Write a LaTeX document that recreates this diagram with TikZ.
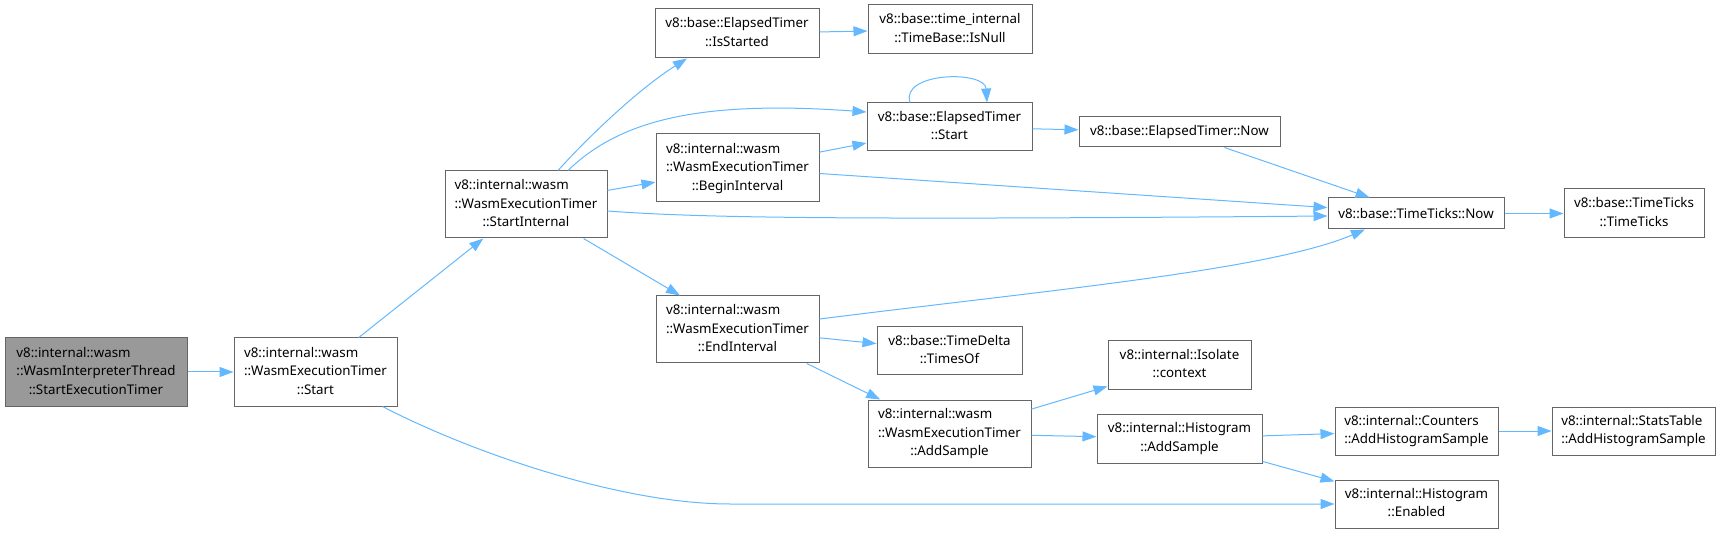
\documentclass[tikz,border=0pt]{standalone}
\usepackage{fontspec}
\setmainfont{Noto Sans}
\usepackage{tikz}
\usetikzlibrary{calc,arrows.meta}
\definecolor{grey40}{HTML}{666666}
\definecolor{grey60}{HTML}{999999}
\definecolor{edgeblue}{HTML}{63B8FF}
\newcommand{\fnlabel}[2]{\begin{tabular}{@{}l@{}}#1\\\multicolumn{1}{@{}c@{}}{#2}\end{tabular}}

\begin{document}
\begin{tikzpicture}[x=1pt,y=-1pt,>={Triangle[length=14pt,width=10pt]},
  fn/.style={draw=grey40,fill=white,line width=1pt,inner sep=0pt,font=\fontsize{13.33}{18.5}\selectfont},
  edge/.style={->,draw=edgeblue,line width=1pt}]
  \useasboundingbox (0,0) rectangle (1721,534);
  % caller and first callee
  \node[fn,fill=grey60,minimum width=182,minimum height=68] (root) at (96,372) {\fnlabel{v8::internal::wasm\\::WasmInterpreterThread}{::StartExecutionTimer}};
  \node[fn,minimum width=163,minimum height=68] (start) at (315.5,372) {\fnlabel{v8::internal::wasm\\::WasmExecutionTimer}{::Start}};
  \node[fn,minimum width=162,minimum height=67] (startint) at (526,204.5) {\fnlabel{v8::internal::wasm\\::WasmExecutionTimer}{::StartInternal}};
  % middle column
  \node[fn,minimum width=164,minimum height=49] (isstarted) at (737,33.5) {\fnlabel{v8::base::ElapsedTimer}{::IsStarted}};
  \node[fn,minimum width=163,minimum height=68] (begin) at (737.5,168) {\fnlabel{v8::internal::wasm\\::WasmExecutionTimer}{::BeginInterval}};
  \node[fn,minimum width=163,minimum height=67] (endint) at (737.5,329.5) {\fnlabel{v8::internal::wasm\\::WasmExecutionTimer}{::EndInterval}};
  \node[fn,minimum width=164,minimum height=49] (timebase) at (950,29.5) {\fnlabel{v8::base::time\_internal}{::TimeBase::IsNull}};
  \node[fn,minimum width=165,minimum height=48] (estart) at (949.5,127) {\fnlabel{v8::base::ElapsedTimer}{::Start}};
  \node[fn,minimum width=145,minimum height=48] (timesof) at (949.5,351) {\fnlabel{v8::base::TimeDelta}{::TimesOf}};
  \node[fn,minimum width=163,minimum height=67] (addsample) at (949.5,433.5) {\fnlabel{v8::internal::wasm\\::WasmExecutionTimer}{::AddSample}};
  % right part
  \node[fn,minimum width=201,minimum height=30] (enow) at (1179.5,132) {v8::base::ElapsedTimer::Now};
  \node[fn,minimum width=143,minimum height=48] (context) at (1179.5,365) {\fnlabel{v8::internal::Isolate}{::context}};
  \node[fn,minimum width=165,minimum height=49] (histadd) at (1179.5,438.5) {\fnlabel{v8::internal::Histogram}{::AddSample}};
  \node[fn,minimum width=176,minimum height=31] (ttnow) at (1416,213.5) {v8::base::TimeTicks::Now};
  \node[fn,minimum width=163,minimum height=48] (counters) at (1416.5,431) {\fnlabel{v8::internal::Counters}{::AddHistogramSample}};
  \node[fn,minimum width=163,minimum height=48] (enabled) at (1416.5,504) {\fnlabel{v8::internal::Histogram}{::Enabled}};
  \node[fn,minimum width=140,minimum height=49] (timeticks) at (1634,213.5) {\fnlabel{v8::base::TimeTicks}{::TimeTicks}};
  \node[fn,minimum width=163,minimum height=48] (stats) at (1633.5,431) {\fnlabel{v8::internal::StatsTable}{::AddHistogramSample}};
  % calls
  \draw[edge] (root) -- (start);
  \draw[edge] (start) -- (startint);
  \draw[edge] ($(start.south)+(67,0)$) .. controls (470,452) and (620,504) .. (730,504) -- (enabled.west);
  \draw[edge] ($(startint.north)+(32,0)$) .. controls (590,135) and (640,88) .. ($(isstarted.south)+(-50,0)$);
  \draw[edge] ($(startint.north)+(42,0)$) .. controls (620,120) and (700,100) .. ($(estart.west)+(0,-15)$);
  \draw[edge] (startint) -- (begin);
  \draw[edge] ($(startint.east)+(0,6.5)$) .. controls (700,218) and (850,220) .. ($(ttnow.west)+(0,2.5)$);
  \draw[edge] (startint) -- (endint);
  \draw[edge] (isstarted) -- (timebase);
  \draw[edge] (begin) -- (estart);
  \draw[edge] (begin) -- (ttnow);
  \draw[edge] ($(estart.north)+(-39.5,0)$) .. controls (900,72) and (985,70) .. ($(estart.north)+(37.5,0)$);
  \draw[edge] (estart) -- (enow);
  \draw[edge] (enow) -- (ttnow);
  \draw[edge] (ttnow) -- (timeticks);
  \draw[edge] ($(endint.east)+(0,-10.5)$) .. controls (1050,290) and (1270,270) .. ($(ttnow.south)+(-51,0)$);
  \draw[edge] (endint) -- (timesof);
  \draw[edge] (endint) -- (addsample);
  \draw[edge] (addsample) -- (context);
  \draw[edge] (addsample) -- (histadd);
  \draw[edge] (histadd) -- (counters);
  \draw[edge] (histadd) -- (enabled);
  \draw[edge] (counters) -- (stats);
\end{tikzpicture}
\end{document}
